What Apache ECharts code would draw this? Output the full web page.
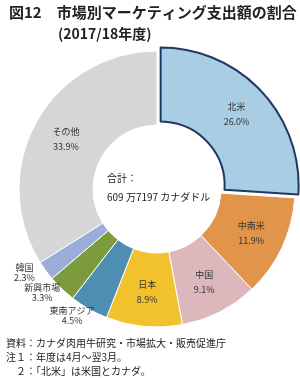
<!DOCTYPE html>
<html>
<head>
<meta charset="utf-8">
<script src="https://cdn.jsdelivr.net/npm/echarts@6/dist/echarts.min.js"></script>
<style>
  html, body { margin: 0; padding: 0; background: #fff; }
  #chart { width: 300px; height: 378px; }
</style>
</head>
<body>
<div id="chart"></div>
<script>
// 市場別マーケティング支出額の割合（2017/18年度）
var markets = ['北米', '中南米', '中国', '日本', '東南アジア', '新興市場', '韓国', 'その他'];
var shares = [26.0, 11.9, 9.1, 8.9, 4.5, 3.3, 2.3, 33.9];
var colors = ['#a9cde3', '#e0954a', '#dcb8bc', '#f2c12e', '#4e8fb1', '#7b9b3c', '#9dadd9', '#d6d6d6'];
var notes = [
    '資料：カナダ肉用牛研究・市場拡大・販売促進庁',
    '注１：年度は4月～翌3月。',
    '　２：「北米」は米国とカナダ。'
];
var FONT = '"Noto Sans CJK JP", sans-serif';

var pieCharts = function () {
    var box = document.getElementById('chart');
    var myChart = echarts.init(box);

    // 小さい区分はラベルを外側に
    var outside = ['東南アジア', '新興市場', '韓国'];
    var pieData = [];
    markets.forEach(function (name, i) {
        var item = {
            name: name,
            value: shares[i],
            itemStyle: { color: colors[i] }
        };
        if (name === '北米') {
            item.selected = true;
            item.itemStyle.borderColor = '#1f3864';
            item.itemStyle.borderWidth = 2;
        }
        if (outside.indexOf(name) >= 0) {
            item.label = { position: 'outside', lineHeight: 10 };
            item.labelLine = { show: false, length: 14, length2: 0 };
        }
        pieData.push(item);
    });

    var titles = [{
        text: '図12　市場別マーケティング支出額の割合',
        left: 4, top: 0,
        textStyle: { fontFamily: FONT, fontSize: 15, fontWeight: 'bold', color: '#222' }
    }, {
        text: '(2017/18年度)',
        left: 53, top: 22,
        textStyle: { fontFamily: FONT, fontSize: 14, fontWeight: 'bold', color: '#222' }
    }, {
        text: '合計：\n609 万7197 カナダドル',
        left: 102, top: 164,
        textStyle: { fontFamily: FONT, fontSize: 10, fontWeight: 'normal', color: '#222', lineHeight: 19 }
    }];
    notes.forEach(function (t, i) {
        titles.push({
            text: t,
            left: 1, top: 333 + i * 14,
            textStyle: { fontFamily: FONT, fontSize: 10, fontWeight: 'normal', color: '#222' }
        });
    });

    var option = {
        animation: false,
        title: titles,
        series: [{
            name: '支出額の割合',
            type: 'pie',
            center: [157, 189],
            radius: [64, 138],
            startAngle: 90,
            clockwise: true,
            selectedMode: 'single',
            selectedOffset: 5,
            avoidLabelOverlap: false,
            itemStyle: { borderColor: '#fff', borderWidth: 1 },
            label: {
                show: true,
                position: 'inside',
                formatter: function (p) {
                    return p.name + '\n' + p.value.toFixed(1) + '%';
                },
                fontFamily: FONT,
                fontSize: 9,
                lineHeight: 15,
                color: '#333',
                align: 'center'
            },
            labelLayout: function (params) {
                if (outside.indexOf(markets[params.dataIndex]) >= 0) {
                    return { align: 'center', dx: -5, dy: -6 };
                }
                return {};
            },
            emphasis: { disabled: true },
            data: pieData
        }]
    };
    myChart.setOption(option);
};

pieCharts();
</script>
</body>
</html>
